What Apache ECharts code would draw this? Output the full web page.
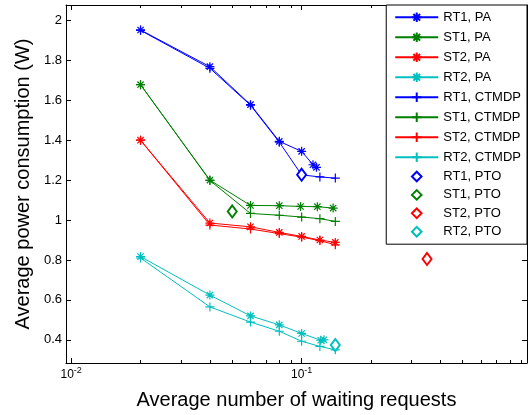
<!DOCTYPE html>
<html>
<head>
<meta charset="utf-8">
<script src="https://cdn.jsdelivr.net/npm/echarts@6/dist/echarts.min.js"></script>
<style>html,body{margin:0;padding:0;background:#fff}#c{width:529px;height:415px}</style>
</head>
<body>
<div id="c"></div>
<script>
// ---- data ----
const xMajorTicks = [0.01, 0.1];
const xMinorTicks = [0.02,0.03,0.04,0.05,0.06,0.07,0.08,0.09,0.2,0.3,0.4,0.5,0.6,0.7,0.8,0.9];
const yTicks = [0.4,0.6,0.8,1.0,1.2,1.4,1.6,1.8,2.0];
const yTickLabels = ['0.4','0.6','0.8','1','1.2','1.4','1.6','1.8','2'];

const rt1PaX = [0.02,0.04,0.06,0.08,0.1,0.112,0.116];
const rt1PaY = [1.952,1.768,1.578,1.394,1.344,1.277,1.264];
const st1PaX = [0.02,0.04,0.06,0.08,0.099,0.117,0.137];
const st1PaY = [1.678,1.2,1.073,1.072,1.068,1.067,1.06];
const st2PaX = [0.02,0.04,0.06,0.08,0.1,0.12,0.14];
const st2PaY = [1.40,0.985,0.966,0.938,0.918,0.90,0.888];
const rt2PaX = [0.02,0.04,0.06,0.08,0.1,0.121,0.125];
const rt2PaY = [0.817,0.624,0.52,0.475,0.432,0.398,0.40];

const ctX = [0.02,0.04,0.06,0.08,0.1,0.12,0.14];
const rt1CtY = [1.95,1.76,1.575,1.39,1.226,1.216,1.21];
const st1CtY = [1.678,1.198,1.033,1.024,1.015,1.007,0.993];
const st2CtY = [1.40,0.975,0.955,0.932,0.914,0.897,0.876];
const rt2CtY = [0.81,0.565,0.489,0.443,0.393,0.367,0.35];

const ptoRT1 = [0.1, 1.227];
const ptoST1 = [0.05, 1.043];
const ptoST2 = [0.35, 0.805];
const ptoRT2 = [0.14, 0.374];

const names = ['RT1, PA','ST1, PA','ST2, PA','RT2, PA','RT1, CTMDP','ST1, CTMDP','ST2, CTMDP','RT2, CTMDP','RT1, PTO','ST1, PTO','ST2, PTO','RT2, PTO'];
const colors = ['#0000ff','#008000','#ff0000','#00bfbf'];

// ---- build ----
const zip = (xs, ys) => xs.map((x, i) => [x, ys[i]]);
const STAR = 'path://M0,5L10,5M5,0L5,10M1.5,1.5L8.5,8.5M8.5,1.5L1.5,8.5';
const PLUS = 'path://M0,5L10,5M5,0L5,10';
const FONT = 'Liberation Sans';

function lineSeries(name, data, color, symbol) {
  return {
    name, type: 'line', data, symbol, symbolSize: 9,
    showAllSymbol: true,
    lineStyle: { color, width: 1 },
    itemStyle: { color: 'none', borderColor: color, borderWidth: 1.2 },
    emphasis: { disabled: true }, animation: false, z: 3
  };
}
function ptoSeries(name, pt, color) {
  return {
    name, type: 'line', data: [pt], symbol: 'diamond', symbolSize: [9, 12],
    showSymbol: true,
    lineStyle: { color, width: 0, opacity: 0 },
    itemStyle: { color: '#fff', borderColor: color, borderWidth: 2 },
    emphasis: { disabled: true }, animation: false, z: 4
  };
}

const series = [
  lineSeries(names[0], zip(rt1PaX, rt1PaY), colors[0], STAR),
  lineSeries(names[1], zip(st1PaX, st1PaY), colors[1], STAR),
  lineSeries(names[2], zip(st2PaX, st2PaY), colors[2], STAR),
  lineSeries(names[3], zip(rt2PaX, rt2PaY), colors[3], STAR),
  lineSeries(names[4], zip(ctX, rt1CtY), colors[0], PLUS),
  lineSeries(names[5], zip(ctX, st1CtY), colors[1], PLUS),
  lineSeries(names[6], zip(ctX, st2CtY), colors[2], PLUS),
  lineSeries(names[7], zip(ctX, rt2CtY), colors[3], PLUS),
  ptoSeries(names[8], ptoRT1, colors[0]),
  ptoSeries(names[9], ptoST1, colors[1]),
  ptoSeries(names[10], ptoST2, colors[2]),
  ptoSeries(names[11], ptoRT2, colors[3])
];

const XMIN = 0.0095, XMAX = 0.95, YMIN = 0.284, YMAX = 2.077;
const axisLine = { show: true, lineStyle: { color: '#000', width: 1 } };

function xAx(position, ticks, len, withLabel, showLine) {
  const ax = {
    type: 'log', logBase: 10, min: XMIN, max: XMAX, position, gridIndex: 0,
    axisLine: showLine ? axisLine : { show: false },
    splitLine: { show: false },
    axisTick: { show: true, inside: true, length: len, customValues: ticks, lineStyle: { color: '#000' } },
    axisLabel: { show: false }
  };
  if (withLabel) {
    ax.axisLabel = {
      show: true, customValues: ticks, margin: 3, color: '#000',
      fontFamily: FONT, fontSize: 12,
      formatter: v => '10{sup|' + Math.round(Math.log10(v)) + '}',
      rich: { sup: { fontSize: 9, fontFamily: FONT, color: '#000', padding: [0, 0, 8, 0] } }
    };
    ax.name = 'Average number of waiting requests';
    ax.nameLocation = 'middle';
    ax.nameGap = 27;
    ax.nameTextStyle = { fontFamily: FONT, fontSize: 20, color: '#000' };
  }
  return ax;
}

const option = {
  backgroundColor: '#fff',
  animation: false,
  grid: { left: 66, right: 2, top: 5, bottom: 52, containLabel: false },
  xAxis: [
    xAx('bottom', xMajorTicks, 5, true, true),
    xAx('bottom', xMinorTicks, 3, false, false),
    xAx('top', xMajorTicks, 5, false, true),
    xAx('top', xMinorTicks, 3, false, false)
  ],
  yAxis: [
    {
      type: 'value', min: YMIN, max: YMAX, position: 'left',
      axisLine, splitLine: { show: false },
      axisTick: { show: true, inside: true, length: 5, customValues: yTicks, lineStyle: { color: '#000' } },
      axisLabel: { customValues: yTicks, margin: 4, color: '#000', fontFamily: FONT, fontSize: 13,
        formatter: v => { const i = yTicks.findIndex(t => Math.abs(t - v) < 1e-6); return i >= 0 ? yTickLabels[i] : ''; } },
      name: 'Average power consumption (W)', nameLocation: 'middle', nameGap: 26,
      nameTextStyle: { fontFamily: FONT, fontSize: 20, color: '#000' }
    },
    {
      type: 'value', min: YMIN, max: YMAX, position: 'right',
      axisLine, splitLine: { show: false },
      axisTick: { show: true, inside: true, length: 5, customValues: yTicks, lineStyle: { color: '#000' } },
      axisLabel: { show: false }
    }
  ],
  legend: {
    orient: 'vertical', right: 2, top: 5,
    data: names,
    backgroundColor: '#fff', borderColor: '#000', borderWidth: 1, borderRadius: 0,
    padding: [5, 6, 6, 8],
    itemWidth: 43, itemHeight: 12, itemGap: 5.4,
    textStyle: { fontFamily: FONT, fontSize: 13, color: '#000' },
    selectedMode: false
  },
  series
};

const chart = echarts.init(document.getElementById('c'), null, { renderer: 'canvas' });
chart.setOption(option);
</script>
</body>
</html>
